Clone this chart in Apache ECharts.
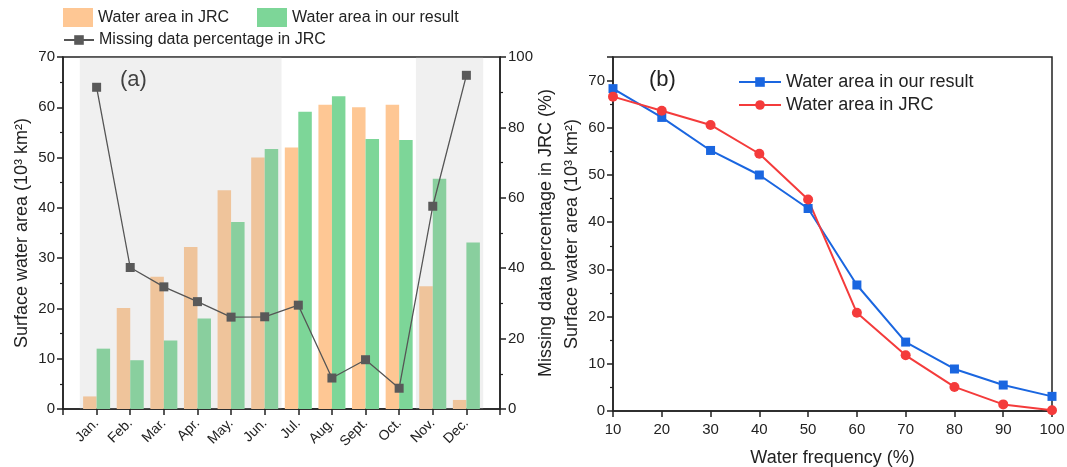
<!DOCTYPE html>
<html lang="en">
<head>
    <meta charset="UTF-8">
    <title>Surface water area</title>
    <script src="https://cdn.jsdelivr.net/npm/echarts@6/dist/echarts.min.js"></script>
    <style>
        body { margin: 0; background: #fff; }
        #container { width: 1067px; height: 467px; }
    </style>
</head>
<body>
    <div id="container"></div>
    <script>
        // (a) monthly
        var months = ['Jan.', 'Feb.', 'Mar.', 'Apr.', 'May.', 'Jun.', 'Jul.', 'Aug.', 'Sept.', 'Oct.', 'Nov.', 'Dec.'];
        var jrcArea = [2.5, 20.1, 26.3, 32.2, 43.5, 50.0, 52.0, 60.5, 60.0, 60.5, 24.4, 1.8];
        var ourArea = [12.0, 9.7, 13.6, 18.0, 37.2, 51.7, 59.1, 62.2, 53.7, 53.5, 45.8, 33.1];
        var missingPct = [91.4, 40.2, 34.7, 30.5, 26.1, 26.2, 29.5, 8.8, 14.0, 5.9, 57.6, 94.8];
        // (b) water frequency
        var freq = [10, 20, 30, 40, 50, 60, 70, 80, 90, 100];
        var oursCurve = [68.3, 62.2, 55.2, 50.0, 42.9, 26.7, 14.6, 8.9, 5.5, 3.1];
        var jrcCurve = [66.6, 63.6, 60.6, 54.5, 44.8, 20.8, 11.8, 5.1, 1.4, 0.15];

        // empty slot at both ends of the month axis
        var cats = [''].concat(months, ['']);
        function pad(arr) { return [null].concat(arr, [null]); }

        var axisColor = '#222';
        var font = 'Liberation Sans, Arial, sans-serif';

        var myCharts = echarts.init(document.querySelector('#container'));
        myCharts.setOption({
            backgroundColor: '#fff',
            textStyle: { fontFamily: font, color: axisColor },
            animation: false,
            legend: [{
                left: 63, top: 8, padding: 0,
                itemWidth: 30, itemHeight: 19, itemGap: 28,
                icon: 'rect',
                textStyle: { fontSize: 16, color: axisColor },
                data: ['Water area in JRC', 'Water area in our result']
            }, {
                left: 63, top: 32, padding: 0,
                itemWidth: 30, itemHeight: 12,
                textStyle: { fontSize: 16, color: axisColor },
                data: ['Missing data percentage in JRC']
            }, {
                left: 738, top: 73, orient: 'vertical', padding: 0,
                itemWidth: 42, itemHeight: 12, itemGap: 5,
                textStyle: { fontSize: 18, color: axisColor },
                formatter: function (n) { return n.trim(); },
                data: ['Water area in our result ', 'Water area in JRC ']
            }],
            graphic: [
                { type: 'text', left: 120, top: 69, style: { text: '(a)', fontSize: 22, fontFamily: font, fill: axisColor } },
                { type: 'text', left: 649, top: 69, style: { text: '(b)', fontSize: 22, fontFamily: font, fill: axisColor } }
            ],
            grid: [
                { left: 63, right: 567, top: 57, bottom: 58, outerBoundsMode: 'none', show: true, borderColor: axisColor, borderWidth: 1.5, backgroundColor: 'transparent' },
                { left: 613, right: 15, top: 57, bottom: 56, outerBoundsMode: 'none', show: true, borderColor: axisColor, borderWidth: 1.5, backgroundColor: 'transparent' }
            ],
            xAxis: [{
                type: 'category', gridIndex: 0, data: cats, boundaryGap: false,
                axisLine: { lineStyle: { color: axisColor, width: 1.5 } },
                axisTick: { interval: 0, length: 6, lineStyle: { color: axisColor, width: 1.5 } },
                axisLabel: { interval: 0, rotate: 45, fontSize: 14, color: axisColor, margin: 12 }
            }, {
                type: 'value', gridIndex: 0, min: 0, max: 13, show: false
            }, {
                type: 'value', gridIndex: 1, min: 10, max: 100, interval: 10,
                name: 'Water frequency (%)', nameLocation: 'middle', nameGap: 38,
                nameTextStyle: { fontSize: 18, color: axisColor },
                splitLine: { show: false },
                axisLine: { lineStyle: { color: axisColor, width: 1.5 } },
                axisTick: { length: 6, lineStyle: { color: axisColor, width: 1.5 } },
                axisLabel: { fontSize: 15, color: axisColor, margin: 11 }
            }],
            yAxis: [{
                type: 'value', gridIndex: 0, min: 0, max: 70, interval: 10,
                name: 'Surface water area (10³ km²)', nameLocation: 'middle', nameGap: 32,
                nameTextStyle: { fontSize: 18, color: axisColor },
                splitLine: { show: false },
                axisLine: { show: true, lineStyle: { color: axisColor, width: 1.5 } },
                axisTick: { show: true, length: 6, lineStyle: { color: axisColor, width: 1.5 } },
                minorTick: { show: true, splitNumber: 2, length: 3, lineStyle: { color: axisColor, width: 1.2 } },
                axisLabel: { fontSize: 15, color: axisColor, margin: 8 }
            }, {
                type: 'value', gridIndex: 0, min: 0, max: 100, interval: 20, position: 'right',
                name: 'Missing data percentage in JRC (%)', nameLocation: 'middle', nameGap: 36, nameRotate: 90,
                nameTextStyle: { fontSize: 18, color: axisColor },
                splitLine: { show: false },
                axisLine: { show: true, lineStyle: { color: axisColor, width: 1.5 } },
                axisTick: { show: true, length: 6, lineStyle: { color: axisColor, width: 1.5 } },
                minorTick: { show: true, splitNumber: 2, length: 3, lineStyle: { color: axisColor, width: 1.2 } },
                axisLabel: { fontSize: 15, color: axisColor, margin: 8 }
            }, {
                type: 'value', gridIndex: 1, min: 0, max: 75, interval: 10,
                name: 'Surface water area (10³ km²)', nameLocation: 'middle', nameGap: 32,
                nameTextStyle: { fontSize: 18, color: axisColor },
                splitLine: { show: false },
                axisLine: { show: true, lineStyle: { color: axisColor, width: 1.5 } },
                axisTick: { show: true, length: 6, lineStyle: { color: axisColor, width: 1.5 } },
                minorTick: { show: true, splitNumber: 2, length: 3, lineStyle: { color: axisColor, width: 1.2 } },
                axisLabel: { fontSize: 15, color: axisColor, margin: 8, showMaxLabel: false }
            }],
            series: [{
                name: 'Water area in JRC', type: 'bar', xAxisIndex: 0, yAxisIndex: 0,
                data: pad(jrcArea), barWidth: 13.5, barGap: '0%', z: 2,
                itemStyle: { color: '#fec794' }
            }, {
                name: 'Water area in our result', type: 'bar', xAxisIndex: 0, yAxisIndex: 0,
                data: pad(ourArea), barWidth: 13.5, barGap: '0%', z: 2,
                itemStyle: { color: '#7dd698' }
            }, {
                // grey bands over Jan.-Jun. and Nov.-Dec.
                name: 'shade', type: 'line', xAxisIndex: 1, yAxisIndex: 0, data: [],
                markArea: {
                    silent: true, z: 3,
                    itemStyle: { color: 'rgba(185,185,185,0.21)' },
                    data: [[{ xAxis: 0.5 }, { xAxis: 6.5 }], [{ xAxis: 10.5 }, { xAxis: 12.5 }]]
                }
            }, {
                name: 'Missing data percentage in JRC', type: 'line', xAxisIndex: 0, yAxisIndex: 1,
                data: pad(missingPct), symbol: 'rect', symbolSize: 9, z: 5,
                itemStyle: { color: '#595959' },
                lineStyle: { color: '#555', width: 1.3 }
            }, {
                name: 'Water area in our result ', type: 'line', xAxisIndex: 2, yAxisIndex: 2,
                data: freq.map(function (f, i) { return [f, oursCurve[i]]; }),
                symbol: 'rect', symbolSize: 9,
                itemStyle: { color: '#1a66e0' },
                lineStyle: { color: '#1a66e0', width: 2 }
            }, {
                name: 'Water area in JRC ', type: 'line', xAxisIndex: 2, yAxisIndex: 2,
                data: freq.map(function (f, i) { return [f, jrcCurve[i]]; }),
                symbol: 'circle', symbolSize: 10,
                itemStyle: { color: '#f43b3b' },
                lineStyle: { color: '#f43b3b', width: 2 }
            }]
        });
    </script>
</body>
</html>
